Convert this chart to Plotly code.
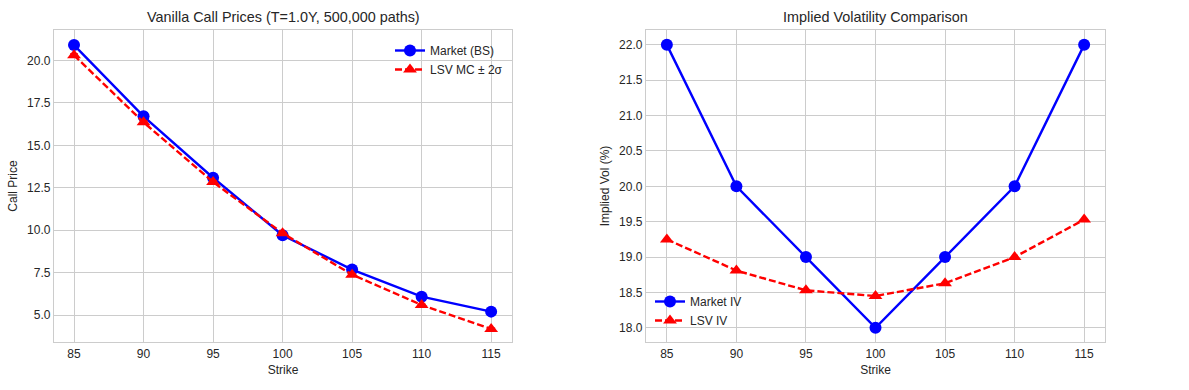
import plotly.graph_objects as go

strikes = [85, 90, 95, 100, 105, 110, 115]
market_price = [20.91, 16.71, 13.09, 9.70, 7.68, 6.08, 5.20]
lsv_price = [20.31, 16.36, 12.84, 9.82, 7.38, 5.59, 4.18]
lsv_price_err = [0.08, 0.07, 0.06, 0.05, 0.05, 0.04, 0.04]
market_iv = [22.0, 20.0, 19.0, 18.0, 19.0, 20.0, 22.0]
lsv_iv = [19.25, 18.81, 18.53, 18.45, 18.63, 19.0, 19.53]

BLUE = "#0000ff"
RED = "#ff0000"
GRID = "#cccccc"
TXT = "#262626"
FONT = "Liberation Sans, Arial, sans-serif"

fig = go.Figure()

fig.add_trace(go.Scatter(x=strikes, y=market_price, mode="lines+markers", name="Market (BS)",
                         line=dict(color=BLUE, width=2.4), marker=dict(symbol="circle", size=12, color=BLUE),
                         xaxis="x", yaxis="y", legend="legend"))
fig.add_trace(go.Scatter(x=strikes, y=lsv_price, mode="lines+markers", name="LSV MC ± 2σ",
                         line=dict(color=RED, width=2.4, dash="7px,3px"),
                         marker=dict(symbol="triangle-up", size=12, color=RED),
                         error_y=dict(type="data", array=lsv_price_err, color=RED, thickness=1.5, width=4),
                         xaxis="x", yaxis="y", legend="legend"))
fig.add_trace(go.Scatter(x=strikes, y=market_iv, mode="lines+markers", name="Market IV",
                         line=dict(color=BLUE, width=2.4), marker=dict(symbol="circle", size=12, color=BLUE),
                         xaxis="x2", yaxis="y2", legend="legend2"))
fig.add_trace(go.Scatter(x=strikes, y=lsv_iv, mode="lines+markers", name="LSV IV",
                         line=dict(color=RED, width=2.4, dash="7px,3px"),
                         marker=dict(symbol="triangle-up", size=12, color=RED),
                         xaxis="x2", yaxis="y2", legend="legend2"))

ax_common = dict(showgrid=True, gridcolor=GRID, gridwidth=1, showline=True, linecolor=GRID, linewidth=1.25,
                 mirror=True, ticks="", zeroline=False, automargin=False,
                 tickfont=dict(size=12, color=TXT, family=FONT))

y_bot = 48 / 390
y_top = 360 / 390

fig.update_layout(
    width=1189, height=390,
    margin=dict(l=0, r=0, t=0, b=0),
    paper_bgcolor="white", plot_bgcolor="white",
    font=dict(family=FONT, color=TXT, size=12),
    showlegend=True,
    xaxis=dict(domain=[54 / 1189, 512 / 1189], range=[83.56, 116.5], tickvals=strikes,
               title=dict(text="Strike", font=dict(size=12), standoff=6), anchor="y", **ax_common),
    yaxis=dict(domain=[y_bot, y_top], range=[3.41, 21.8], tickvals=[5, 7.5, 10, 12.5, 15, 17.5, 20],
               tickformat=".1f", title=dict(text="Call Price", font=dict(size=12), standoff=6), anchor="x", **ax_common),
    xaxis2=dict(domain=[646 / 1189, 1105 / 1189], range=[83.5, 116.5], tickvals=strikes,
                title=dict(text="Strike", font=dict(size=12), standoff=6), anchor="y2", **ax_common),
    yaxis2=dict(domain=[y_bot, y_top], range=[17.8, 22.21], tickvals=[18, 18.5, 19, 19.5, 20, 20.5, 21, 21.5, 22],
                tickformat=".1f", title=dict(text="Implied Vol (%)", font=dict(size=12), standoff=6), anchor="x2", **ax_common),
    legend=dict(x=508 / 1189, y=1 - 36 / 390, xanchor="right", yanchor="top", bgcolor="rgba(0,0,0,0)",
                font=dict(size=12, color=TXT), tracegroupgap=0, itemwidth=30),
    legend2=dict(x=650 / 1189, y=1 - 335 / 390, xanchor="left", yanchor="bottom", bgcolor="rgba(0,0,0,0)",
                 font=dict(size=12, color=TXT), tracegroupgap=0, itemwidth=30),
    annotations=[
        dict(text="Vanilla Call Prices (T=1.0Y, 500,000 paths)", x=(54 + 512) / 2 / 1189, y=1 - 17 / 390,
             xref="paper", yref="paper", showarrow=False, font=dict(size=14.4, color=TXT), xanchor="center", yanchor="middle"),
        dict(text="Implied Volatility Comparison", x=(646 + 1105) / 2 / 1189, y=1 - 17 / 390,
             xref="paper", yref="paper", showarrow=False, font=dict(size=14.4, color=TXT), xanchor="center", yanchor="middle"),
    ],
)

fig.write_html("out.html", config={"displayModeBar": False},
               post_script="document.body.style.margin='0';document.body.style.overflow='hidden';")
